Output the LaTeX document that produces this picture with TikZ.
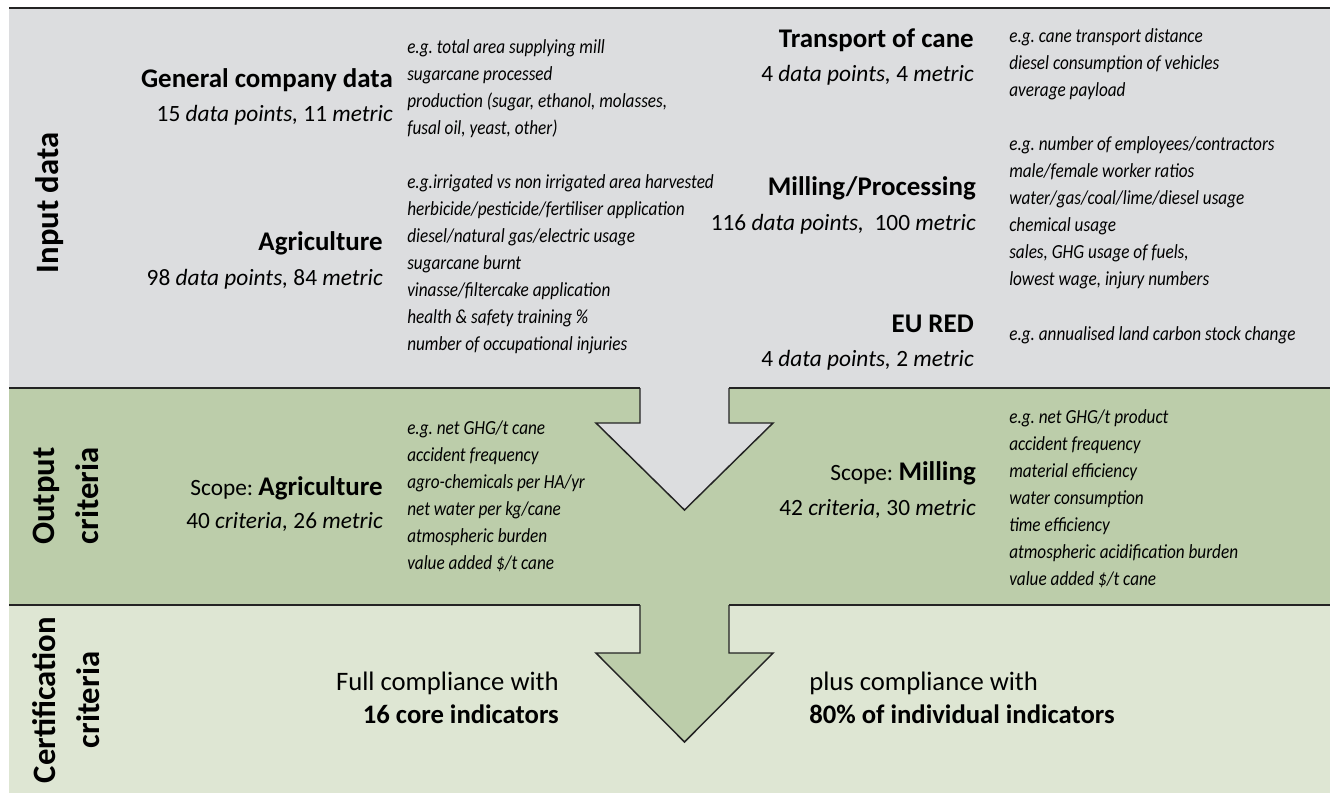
\documentclass[tikz,border=0pt]{standalone}
\usepackage{fontspec}
\setmainfont{Carlito}
\newfontfamily\descfont[FakeStretch=0.86]{Carlito}
\definecolor{graybg}{RGB}{220,221,223}
\definecolor{greenbg}{RGB}{188,205,170}
\definecolor{lightbg}{RGB}{222,230,211}
\definecolor{linec}{RGB}{35,35,35}
\tikzset{
  sepline/.style={draw=linec, line width=1.6pt},
  arrowline/.style={draw=linec, line width=1.1pt, line join=miter},
  head/.style={font=\frenchspacing\fontsize{20.2}{24}\selectfont\bfseries, inner sep=0},
  num/.style={font=\frenchspacing\fontsize{17.5}{21}\selectfont, inner sep=0},
  desc/.style={font=\frenchspacing\descfont\fontsize{15}{17}\selectfont\itshape, inner sep=0, anchor=base west},
  side/.style={font=\fontsize{24.5}{33}\selectfont\bfseries, inner sep=0, rotate=90, align=center},
  cert/.style={font=\frenchspacing\fontsize{20}{24}\selectfont, inner sep=0},
}
\newcommand{\itx}[1]{\textit{#1}}
\newcommand{\bigb}[1]{{\fontsize{20.2}{24}\selectfont\bfseries #1}}
\begin{document}
\begin{tikzpicture}[x=0.75pt, y=-0.75pt]
\useasboundingbox (0,0) rectangle (1330,793);
% bands
\fill[graybg] (9,8) rectangle (1330,388);
\fill[greenbg] (9,388) rectangle (1330,605);
\fill[lightbg] (9,605) rectangle (1330,793);
% arrows
\filldraw[fill=graybg, arrowline] (640,388) -- (640,423) -- (596,423) -- (684.5,510) -- (773,423) -- (729,423) -- (729,388);
\filldraw[fill=greenbg, arrowline] (640,605) -- (640,653) -- (596,653) -- (684.5,742) -- (773,653) -- (729,653) -- (729,605);
% separator lines
\draw[sepline] (9,8) -- (1330,8);
\draw[sepline] (9,388) -- (640,388) (729,388) -- (1330,388);
\draw[sepline] (9,605) -- (640,605) (729,605) -- (1330,605);

% side labels
\node[side] (lin) at (50,203) {Input data};
\node[side] (lout) at (66,496) {Output\\criteria};
\node[side] (lcert) at (66,700) {Certification\\criteria};

% general company data
\node[head, anchor=base east] (gh) at (393,87) {General company data};
\node[num, anchor=base east] (gn) at (393,121) {15 \itx{data points,} 11 \itx{metric}};
\foreach \t [count=\i] in {{e.g. total area supplying mill},{sugarcane processed},{production (sugar, ethanol, molasses,},{fusal oil, yeast, other)}}
  \node[desc] (gd\i) at (407,{53+27*(\i-1)}) {\t};

% agriculture
\node[head, anchor=base east] (ah) at (383,250) {Agriculture};
\node[num, anchor=base east] (an) at (383,285) {98 \itx{data points,} 84 \itx{metric}};
\foreach \t [count=\i] in {{e.g.irrigated vs non irrigated area harvested},{herbicide/pesticide/fertiliser application},{diesel/natural gas/electric usage},{sugarcane burnt},{vinasse/filtercake application},{health \& safety training \%},{number of occupational injuries}}
  \node[desc] (ad\i) at (407,{188+27*(\i-1)}) {\t};

% transport
\node[head, anchor=base east] (th) at (974,47) {Transport of cane};
\node[num, anchor=base east] (tn) at (974,81) {4 \itx{data points,} 4 \itx{metric}};
\foreach \t [count=\i] in {{e.g. cane transport distance},{diesel consumption of vehicles},{average payload}}
  \node[desc] (td\i) at (1009,{42+27*(\i-1)}) {\t};

% milling
\node[head, anchor=base east] (mh) at (976,195) {Milling/Processing};
\node[num, anchor=base east] (mn) at (976,230) {116 \itx{data points,}\ \ 100 \itx{metric}};
\foreach \t [count=\i] in {{e.g. number of employees/contractors},{male/female worker ratios},{water/gas/coal/lime/diesel usage},{chemical usage},{sales, GHG usage of fuels,},{lowest wage, injury numbers}}
  \node[desc] (md\i) at (1009,{150+27*(\i-1)}) {\t};

% EU RED
\node[head, anchor=base east] (eh) at (974,332) {EU RED};
\node[num, anchor=base east] (en) at (974,366) {4 \itx{data points,} 2 \itx{metric}};
\node[desc] (ed1) at (1009,340) {e.g. annualised land carbon stock change};

% output: agriculture
\node[num, anchor=base east] (oah) at (383,495) {Scope: \bigb{Agriculture}};
\node[num, anchor=base east] (oan) at (383,528) {40 \itx{criteria,} 26 \itx{metric}};
\foreach \t [count=\i] in {{e.g. net GHG/t cane},{accident frequency},{agro-chemicals per HA/yr},{net water per kg/cane},{atmospheric burden},{value added \$/t cane}}
  \node[desc] (oad\i) at (407,{434+27*(\i-1)}) {\t};

% output: milling
\node[num, anchor=base east] (omh) at (976,480) {Scope: \bigb{Milling}};
\node[num, anchor=base east] (omn) at (976,515) {42 \itx{criteria,} 30 \itx{metric}};
\foreach \t [count=\i] in {{e.g. net GHG/t product},{accident frequency},{material efficiency},{water consumption},{time efficiency},{atmospheric acidification burden},{value added \$/t cane}}
  \node[desc] (omd\i) at (1009,{423+27*(\i-1)}) {\t};

% certification
\node[cert, anchor=base east] (c1) at (559,690) {Full compliance with};
\node[cert, anchor=base east] (c2) at (559,723) {\textbf{16 core indicators}};
\node[cert, anchor=base west] (c3) at (809,690) {plus compliance with};
\node[cert, anchor=base west] (c4) at (809,723) {\textbf{80\% of individual indicators}};
\end{tikzpicture}
\end{document}
